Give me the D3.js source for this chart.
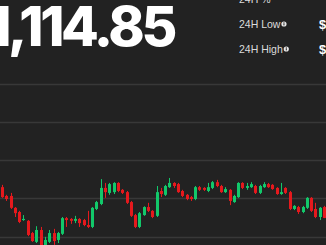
<!DOCTYPE html>
<html><head><meta charset="utf-8">
<script src="https://cdn.jsdelivr.net/npm/d3@7/dist/d3.min.js"></script>
<style>html,body{margin:0;padding:0;background:#222222;overflow:hidden}svg{display:block}</style>
</head><body>
<script>
const priceText = "$1,114.85";
const statLabels = ["24H %", "24H Low", "24H High"];
const statValues = ["", "$", "$"];
const gridValues = [1110, 1120, 1130, 1140, 1150];
const opens  = [1122.9,1120.6,1120.6,1117.5,1116.4,1114.3,1114.1,1110.9,1108.6,1111.7,1107.3,1108.6,1110.9,1109.1,1110.7,1114.8,1114.6,1114.1,1114.6,1114.3,1113.0,1112.5,1117.2,1118.5,1122.7,1121.4,1121.6,1124.0,1122.2,1121.6,1119.0,1115.6,1112.5,1115.6,1117.7,1116.7,1115.4,1121.9,1120.9,1122.9,1124.0,1123.7,1121.9,1120.9,1120.3,1119.8,1122.9,1122.7,1121.9,1122.7,1124.2,1123.2,1121.6,1122.2,1119.0,1120.3,1124.0,1122.7,1122.9,1123.2,1121.4,1122.9,1123.7,1123.5,1122.7,1121.1,1122.7,1121.6,1117.2,1117.7,1116.4,1117.5,1120.1,1117.2,1115.1,1117.7];
const highs  = [1123.5,1120.9,1121.4,1117.7,1116.7,1115.6,1114.3,1111.2,1112.7,1112.5,1109.9,1111.7,1112.0,1111.2,1115.1,1115.1,1114.8,1115.4,1114.8,1114.6,1116.7,1117.7,1119.3,1125.0,1124.0,1124.0,1124.2,1124.2,1122.4,1121.9,1119.3,1115.9,1116.4,1117.9,1118.8,1116.9,1123.2,1122.7,1123.5,1125.3,1124.2,1124.0,1122.2,1121.1,1120.6,1123.2,1123.2,1122.9,1124.0,1124.5,1124.8,1123.5,1122.9,1122.4,1120.9,1124.2,1124.2,1124.0,1124.2,1123.5,1123.5,1124.2,1124.0,1123.7,1122.9,1124.0,1122.9,1121.9,1118.2,1118.0,1118.0,1120.3,1120.3,1118.8,1117.7,1118.0];
const lows   = [1120.1,1119.3,1117.2,1115.1,1113.5,1114.1,1110.1,1108.6,1108.3,1107.0,1107.0,1108.3,1107.8,1108.3,1110.4,1112.5,1113.3,1113.5,1112.5,1112.7,1112.2,1112.2,1116.9,1118.2,1120.1,1120.9,1121.1,1121.6,1121.1,1118.5,1115.1,1112.2,1112.2,1115.4,1116.4,1114.8,1115.1,1120.3,1120.6,1122.7,1122.7,1121.4,1120.3,1119.5,1119.3,1119.5,1121.9,1121.9,1121.6,1122.4,1122.9,1121.4,1121.4,1118.2,1118.8,1120.1,1122.4,1122.2,1122.7,1121.1,1121.1,1122.7,1122.7,1122.2,1120.9,1120.9,1121.1,1116.9,1116.9,1115.9,1116.1,1117.2,1116.4,1114.8,1114.3,1114.8];
const closes = [1120.3,1119.8,1117.5,1116.1,1113.8,1114.6,1110.4,1108.8,1111.7,1107.3,1109.1,1110.9,1108.8,1110.9,1114.8,1114.3,1114.1,1114.6,1113.5,1113.0,1112.5,1117.5,1119.0,1122.7,1121.6,1123.7,1124.0,1121.9,1121.4,1118.8,1115.4,1112.5,1116.1,1117.7,1116.7,1115.1,1121.6,1121.1,1123.2,1124.0,1123.2,1121.6,1120.6,1119.8,1119.8,1122.9,1122.2,1122.2,1122.9,1124.2,1123.2,1121.6,1122.4,1119.3,1120.6,1124.0,1122.7,1123.2,1123.7,1121.4,1123.2,1123.7,1122.9,1122.4,1121.1,1121.6,1121.4,1117.2,1118.0,1116.4,1117.7,1120.1,1116.7,1115.1,1117.5,1114.85];

const W = 326, H = 245;
const UP = "#12c86a", DOWN = "#e5191d";
const candles = opens.map((o, i) => ({i, o, h: highs[i], l: lows[i], c: closes[i]}));

const svg = d3.select("body").append("svg").attr("width", W).attr("height", H);
svg.append("rect").attr("width", W).attr("height", H).attr("fill", "#222222");

// Header
svg.append("text").attr("x", 174).attr("y", 46).attr("text-anchor", "end")
  .attr("font-family", "Inter, 'Liberation Sans', sans-serif").attr("font-weight", 800)
  .attr("font-size", 55).attr("letter-spacing", -3.3).attr("fill", "#ffffff").text(priceText);

const statY = d3.scaleLinear().domain([0, 2]).range([3, 53]);
const stats = svg.append("g");
statLabels.forEach((lab, k) => {
  const t = stats.append("text").attr("x", 239).attr("y", statY(k))
    .attr("font-family", "'Liberation Sans', Arial, sans-serif").attr("font-size", 10.5)
    .attr("fill", "#dcdcdc").text(lab);
  if (k > 0) {
    const w = t.node().getComputedTextLength();
    const cx = 239 + w + 3.5, cy = statY(k) - 4;
    stats.append("circle").attr("cx", cx).attr("cy", cy).attr("r", 2.6).attr("fill", "#e8e8e8");
    stats.append("rect").attr("x", cx - 0.5).attr("y", cy - 0.8).attr("width", 1).attr("height", 2.2).attr("fill", "#222");
    stats.append("rect").attr("x", cx - 0.5).attr("y", cy - 2).attr("width", 1).attr("height", 0.7).attr("fill", "#222");
  }
  if (statValues[k]) {
    stats.append("text").attr("x", 319).attr("y", statY(k) + 1)
      .attr("font-family", "'Liberation Sans', Arial, sans-serif").attr("font-weight", 700)
      .attr("font-size", 13).attr("fill", "#ffffff").text(statValues[k]);
  }
});

// Chart
const y = d3.scaleLinear().domain([1110, 1150]).range([236.5, 83.5]);
const x = d3.scaleLinear().domain([0, candles.length - 1]).range([2, 324]);

svg.append("g").selectAll("line").data(gridValues).join("line")
  .attr("x1", 0).attr("x2", W)
  .attr("y1", d => Math.round(y(d)) + 0.5).attr("y2", d => Math.round(y(d)) + 0.5)
  .attr("stroke", "#383838").attr("stroke-width", 1.4);

const g = svg.append("g");
const col = d => d.c >= d.o ? UP : DOWN;
g.selectAll("line.wick").data(candles).join("line").attr("class", "wick")
  .attr("x1", d => Math.round(x(d.i)) + 0.5).attr("x2", d => Math.round(x(d.i)) + 0.5)
  .attr("y1", d => y(d.h)).attr("y2", d => y(d.l))
  .attr("stroke", col).attr("stroke-width", 1);
g.selectAll("rect.body").data(candles).join("rect").attr("class", "body")
  .attr("x", d => Math.round(x(d.i)) - 1)
  .attr("width", 3)
  .attr("y", d => y(Math.max(d.o, d.c)))
  .attr("height", d => Math.max(1, Math.abs(y(d.o) - y(d.c))))
  .attr("fill", col);
</script>
</body></html>
